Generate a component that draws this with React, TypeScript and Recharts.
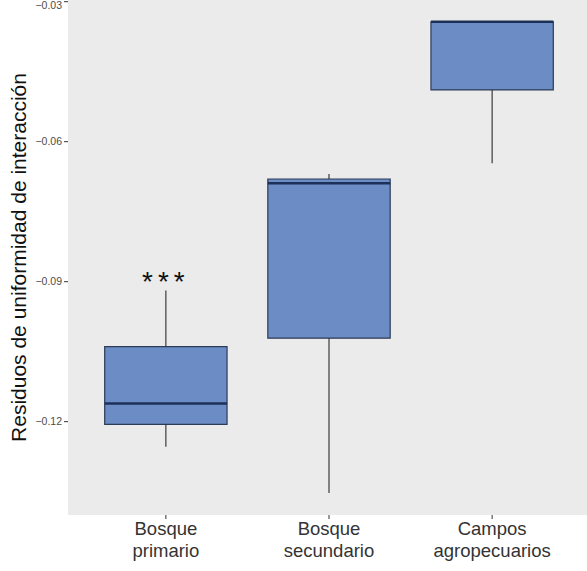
import {
  CartesianGrid,
  ComposedChart,
  ReferenceArea,
  ReferenceLine,
  Scatter,
  XAxis,
  YAxis,
} from "recharts";

// Estadísticos de caja.
const GROUPS = ["Bosque primario", "Bosque secundario", "Campos agropecuarios"];
const WHISKER_LOW = [-0.1254, -0.1353, -0.0646];
const Q1 = [-0.1206, -0.1021, -0.0489];
const MEDIAN = [-0.1161, -0.0689, -0.0343];
const Q3 = [-0.1039, -0.068, -0.0343];
const WHISKER_HIGH = [-0.0919, -0.0669, -0.0343];
const Y_TICKS = [-0.12, -0.09, -0.06, -0.03];
const X_TICKS = [1, 2, 3];
const SIGNIF = [{ x: 1, y: -0.0888, label: "***" }];

const FONT = "'Liberation Sans', Arial, sans-serif";
const BOX_FILL = "#6b8cc5";
const BOX_STROKE = "#2c3b56";
const MEDIAN_STROKE = "#1c3058";
const WHISKER = "#2b2b2b";
const HALF = 0.375;

const fmt = (v: number) => v.toFixed(2).replace("-", "\u2212");

function GroupTick(props: any) {
  const { x, y, payload } = props;
  const words = GROUPS[payload.value - 1].split(" ");
  return (
    <text x={x} y={y} textAnchor="middle" fontSize={18.5} fill="#333" fontFamily={FONT}>
      {words.map((w, i) => (
        <tspan key={w} x={x} dy={i === 0 ? 14 : 22}>
          {w}
        </tspan>
      ))}
    </text>
  );
}

function Stars(props: any) {
  const { cx, cy, payload } = props;
  return (
    <text x={cx} y={cy + 15} textAnchor="middle" fontSize={28} letterSpacing={5} fill="#111" fontFamily={FONT}>
      {payload.label}
    </text>
  );
}

function YLabel(props: any) {
  const vb = props.viewBox;
  const cx = vb.x + 18;
  const cy = vb.y + vb.height / 2;
  return (
    <text
      x={cx}
      y={cy}
      transform={`rotate(-90 ${cx} ${cy})`}
      textAnchor="middle"
      dominantBaseline="central"
      fontSize={21}
      fill="#111"
      fontFamily={FONT}
    >
      Residuos de uniformidad de interacción
    </text>
  );
}

export default function App() {
  return (
    <div style={{ position: "absolute", left: 0, top: 0, width: 587, height: 571, overflow: "hidden", background: "#fff" }}>
      <ComposedChart width={590} height={571} data={SIGNIF} margin={{ top: 0, right: 0, bottom: 0, left: 0 }}>
        <CartesianGrid fill="#ebebeb" horizontal={false} vertical={false} />
        <XAxis
          type="number"
          dataKey="x"
          domain={[0.4, 3.6]}
          ticks={X_TICKS}
          allowDataOverflow
          height={56}
          axisLine={false}
          tickSize={4}
          tickLine={{ stroke: "#333" }}
          tick={<GroupTick />}
          interval={0}
        />
        <YAxis
          type="number"
          dataKey="y"
          domain={[-0.14, -0.02964]}
          ticks={Y_TICKS}
          allowDataOverflow
          width={68}
          axisLine={false}
          tickSize={4}
          tickMargin={2}
          tickLine={{ stroke: "#333" }}
          tick={{ fontSize: 10.5, fill: "#4d4d4d", fontFamily: FONT }}
          tickFormatter={fmt}
          label={<YLabel />}
        />
        {GROUPS.map((g, i) => (
          <ReferenceLine
            key={`wl-${g}`}
            segment={[
              { x: i + 1, y: WHISKER_LOW[i] },
              { x: i + 1, y: Q1[i] },
            ]}
            stroke={WHISKER}
            strokeWidth={1.1}
          />
        ))}
        {GROUPS.map((g, i) => (
          <ReferenceLine
            key={`wh-${g}`}
            segment={[
              { x: i + 1, y: Q3[i] },
              { x: i + 1, y: WHISKER_HIGH[i] },
            ]}
            stroke={WHISKER}
            strokeWidth={1.1}
          />
        ))}
        {GROUPS.map((g, i) => (
          <ReferenceArea
            key={`box-${g}`}
            x1={i + 1 - HALF}
            x2={i + 1 + HALF}
            y1={Q1[i]}
            y2={Q3[i]}
            fill={BOX_FILL}
            fillOpacity={1}
            stroke={BOX_STROKE}
            strokeWidth={1.2}
          />
        ))}
        {GROUPS.map((g, i) => (
          <ReferenceLine
            key={`med-${g}`}
            segment={[
              { x: i + 1 - HALF, y: MEDIAN[i] },
              { x: i + 1 + HALF, y: MEDIAN[i] },
            ]}
            stroke={MEDIAN_STROKE}
            strokeWidth={2.4}
          />
        ))}
        <Scatter dataKey="y" shape={<Stars />} isAnimationActive={false} />
      </ComposedChart>
    </div>
  );
}
